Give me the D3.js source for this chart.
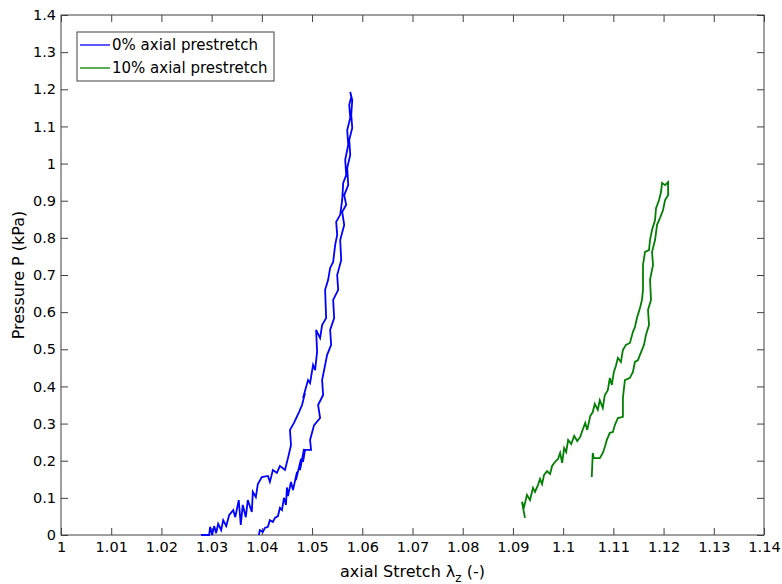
<!DOCTYPE html>
<html>
<head>
<meta charset="utf-8">
<script src="https://cdn.jsdelivr.net/npm/d3@7"></script>
<style>
  body { margin: 0; background: #fff; }
  text { font-family: "DejaVu Sans", sans-serif; }
</style>
</head>
<body>
<svg id="chart" width="782" height="584"></svg>
<script>
// tick values
var xTicks = [1, 1.01, 1.02, 1.03, 1.04, 1.05, 1.06, 1.07, 1.08, 1.09, 1.1, 1.11, 1.12, 1.13, 1.14];
var yTicks = [0, 0.1, 0.2, 0.3, 0.4, 0.5, 0.6, 0.7, 0.8, 0.9, 1, 1.1, 1.2, 1.3, 1.4];

// 0% axial prestretch (loading up the left branch, back down the right one)
var stretch0 = [1.0279, 1.0295, 1.0297, 1.0301, 1.0305, 1.0309, 1.0313, 1.0319, 1.0323, 1.0329,
  1.0335, 1.0343, 1.0347, 1.0354, 1.0358, 1.0362, 1.0368, 1.0372, 1.038, 1.0382,
  1.0388, 1.0392, 1.04, 1.0412, 1.0416, 1.0422, 1.043, 1.0436, 1.0446, 1.0452,
  1.0458, 1.0456, 1.0464, 1.0474, 1.048, 1.0486, 1.0482, 1.0492, 1.0496, 1.0502,
  1.0506, 1.051, 1.0508, 1.0516, 1.052, 1.0528, 1.0526, 1.0532, 1.0536, 1.0542,
  1.0546, 1.055, 1.0548, 1.0556, 1.056, 1.0562, 1.0568, 1.0566, 1.0572, 1.057,
  1.0576, 1.0574, 1.0578, 1.0576,
  1.058, 1.0578, 1.058, 1.0574, 1.0576, 1.057, 1.0572, 1.0564, 1.0568, 1.056,
  1.0564, 1.0556, 1.0558, 1.055, 1.0552, 1.0542, 1.0544, 1.0536, 1.0538, 1.053,
  1.0526, 1.052, 1.0522, 1.0512, 1.0516, 1.0504, 1.0496, 1.0498, 1.0486, 1.0482,
  1.0484, 1.0476, 1.0478, 1.0468, 1.047, 1.0462, 1.0458, 1.0452, 1.045, 1.0448,
  1.0444, 1.044, 1.0436, 1.0432, 1.0426, 1.0422, 1.0416, 1.0412, 1.0406, 1.0402,
  1.0396, 1.0394];
var pressure0 = [0, 0, 0.022, 0, 0.024, 0.005, 0.03, 0.013, 0.04, 0.024,
  0.054, 0.067, 0.048, 0.094, 0.027, 0.081, 0.048, 0.094, 0.062, 0.116,
  0.102, 0.137, 0.156, 0.159, 0.143, 0.175, 0.167, 0.186, 0.175, 0.207,
  0.242, 0.283, 0.302, 0.331, 0.35, 0.382, 0.369, 0.417, 0.409, 0.458,
  0.444, 0.493, 0.552, 0.53, 0.565, 0.584, 0.66, 0.687, 0.719, 0.735,
  0.781, 0.808, 0.843, 0.862, 0.902, 0.948, 0.969, 1.01, 1.05, 1.09,
  1.123, 1.158, 1.179, 1.193,
  1.171, 1.131, 1.096, 1.064, 1.023, 0.988, 0.942, 0.915, 0.889, 0.87,
  0.835, 0.794, 0.74, 0.7, 0.66, 0.633, 0.584, 0.552, 0.512, 0.485,
  0.458, 0.417, 0.377, 0.35, 0.315, 0.296, 0.256, 0.229, 0.229, 0.197,
  0.232, 0.175, 0.205, 0.148, 0.17, 0.121, 0.143, 0.105, 0.128, 0.081,
  0.1, 0.067, 0.073, 0.051, 0.046, 0.035, 0.04, 0.022, 0.019, 0.008,
  0.013, 0];

// 10% axial prestretch
var stretch10 = [1.0924, 1.0918, 1.0922, 1.0928, 1.0934, 1.094, 1.0944, 1.095, 1.0954, 1.0958,
  1.0962, 1.0968, 1.0974, 1.0978, 1.0984, 1.099, 1.0994, 1.0998, 1.1002, 1.1006,
  1.101, 1.1016, 1.1022, 1.1028, 1.1034, 1.1038, 1.1044, 1.1048, 1.1054, 1.1059,
  1.1063, 1.1069, 1.1073, 1.1079, 1.1083, 1.1089, 1.1093, 1.1097, 1.1101, 1.1105,
  1.1109, 1.1115, 1.1119, 1.1125, 1.1133, 1.1139, 1.1143, 1.1147, 1.1153, 1.1157,
  1.1159, 1.1159, 1.1163, 1.1171, 1.1173, 1.1177, 1.1183, 1.1185, 1.1191, 1.1195,
  1.1197, 1.1203, 1.1209,
  1.1209, 1.1203, 1.1199, 1.1193, 1.1187, 1.1183, 1.1177, 1.1179, 1.1173, 1.1175,
  1.1169, 1.1171, 1.1165, 1.1161, 1.1153, 1.1149, 1.1143, 1.1139, 1.1133, 1.1123,
  1.1119, 1.1119, 1.1109, 1.1103, 1.1099, 1.1093, 1.1087, 1.1083, 1.1079, 1.1073,
  1.1061, 1.1059, 1.1057];
var pressure10 = [0.046, 0.089, 0.075, 0.108, 0.094, 0.127, 0.116, 0.135, 0.151, 0.137,
  0.162, 0.172, 0.164, 0.186, 0.197, 0.205, 0.221, 0.194, 0.234, 0.223,
  0.256, 0.245, 0.267, 0.253, 0.264, 0.28, 0.302, 0.283, 0.32, 0.331,
  0.353, 0.337, 0.363, 0.342, 0.377, 0.39, 0.423, 0.404, 0.439, 0.455,
  0.477, 0.466, 0.498, 0.512, 0.517, 0.547, 0.56, 0.584, 0.611, 0.633,
  0.66, 0.727, 0.762, 0.767, 0.794, 0.821, 0.848, 0.88, 0.902, 0.924,
  0.948, 0.942, 0.95,
  0.915, 0.902, 0.875, 0.854, 0.835, 0.794, 0.762, 0.727, 0.687, 0.633,
  0.606, 0.565, 0.539, 0.512, 0.485, 0.471, 0.466, 0.439, 0.423, 0.417,
  0.369, 0.318, 0.315, 0.296, 0.277, 0.275, 0.256, 0.237, 0.221, 0.207,
  0.207, 0.221, 0.156];

var seriesNames = ["0% axial prestretch", "10% axial prestretch"];
var seriesColors = ["#0000ff", "#008000"];

var margin = { top: 15, right: 18, bottom: 49, left: 61 };
var width = 782 - margin.left - margin.right,
    height = 584 - margin.top - margin.bottom;

var svg = d3.select("#chart");
var g = svg.append("g")
    .attr("transform", `translate(${margin.left},${margin.top})`);

var xScale = d3.scaleLinear().domain([1, 1.14]).range([0, width]);
var yScale = d3.scaleLinear().domain([0, 1.4]).range([height, 0]);

var fmt = function (d) { return String(+d.toFixed(2)); };

var axisCol = "#404040";

function styleAxis(sel) {
    sel.select(".domain").remove();
    sel.selectAll("line").attr("stroke", axisCol);
    sel.selectAll("text").attr("fill", "#000").style("font-size", "14.5px");
}

g.append("g")
    .attr("transform", `translate(0,${height})`)
    .call(d3.axisBottom(xScale).tickValues(xTicks).tickFormat(fmt)
        .tickSizeInner(-7).tickSizeOuter(0).tickPadding(7))
    .call(styleAxis);

g.append("g")
    .call(d3.axisTop(xScale).tickValues(xTicks).tickFormat("")
        .tickSizeInner(-7).tickSizeOuter(0))
    .call(styleAxis);

g.append("g")
    .call(d3.axisLeft(yScale).tickValues(yTicks).tickFormat(fmt)
        .tickSizeInner(-7).tickSizeOuter(0).tickPadding(5))
    .call(styleAxis);

g.append("g")
    .attr("transform", `translate(${width},0)`)
    .call(d3.axisRight(yScale).tickValues(yTicks).tickFormat("")
        .tickSizeInner(-7).tickSizeOuter(0))
    .call(styleAxis);

// box
g.append("rect")
    .attr("width", width).attr("height", height)
    .attr("fill", "none").attr("stroke", axisCol).attr("stroke-width", 1);

var line = d3.line()
    .x(function (d) { return xScale(d[0]); })
    .y(function (d) { return yScale(d[1]); });

var series = [d3.zip(stretch0, pressure0), d3.zip(stretch10, pressure10)];

g.selectAll(".curve")
    .data(series)
    .join("path")
    .attr("class", "curve")
    .attr("fill", "none")
    .attr("stroke", function (d, i) { return seriesColors[i]; })
    .attr("stroke-width", 1.8)
    .attr("stroke-linejoin", "miter")
    .attr("d", line);

// axis titles
svg.append("text")
    .attr("x", margin.left + width / 2)
    .attr("y", 577)
    .attr("text-anchor", "middle")
    .style("font-size", "16px")
    .html('axial Stretch λ<tspan dy="5" font-size="12px">z</tspan><tspan dy="-5"> (-)</tspan>');

svg.append("text")
    .attr("transform", `translate(24,${margin.top + height / 2}) rotate(-90)`)
    .attr("text-anchor", "middle")
    .style("font-size", "16px")
    .text("Pressure P (kPa)");

// legend
var legend = svg.append("g").attr("transform", "translate(77,32)");
legend.append("rect")
    .attr("width", 197).attr("height", 49)
    .attr("fill", "#fff").attr("stroke", axisCol);

var items = legend.selectAll(".item")
    .data(seriesNames)
    .join("g")
    .attr("class", "item")
    .attr("transform", function (d, i) { return `translate(0,${13 + i * 23})`; });

items.append("line")
    .attr("x1", 3).attr("x2", 33)
    .attr("stroke", function (d, i) { return seriesColors[i]; })
    .attr("stroke-width", 1.3);

items.append("text")
    .attr("x", 35).attr("dy", "0.35em")
    .style("font-size", "15px")
    .text(function (d) { return d; });
</script>
</body>
</html>
